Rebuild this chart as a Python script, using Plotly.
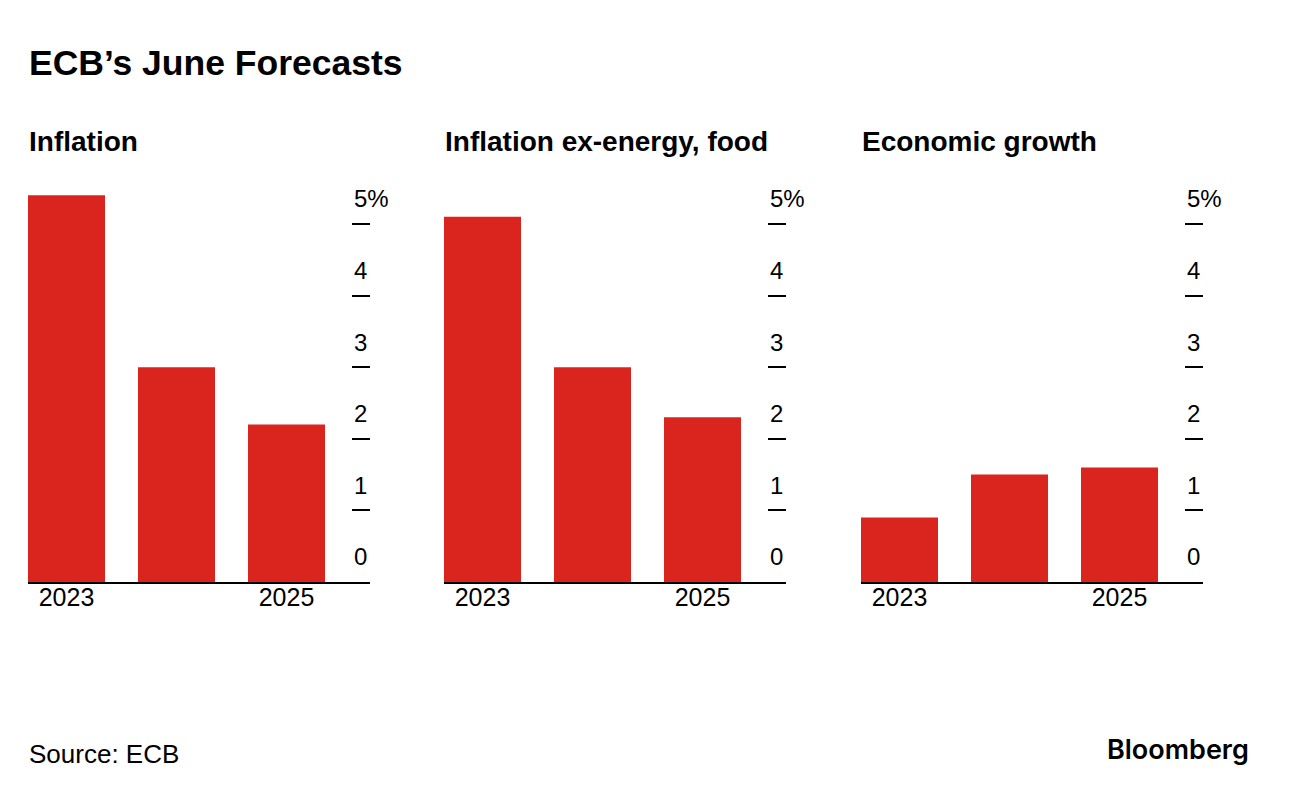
import plotly.graph_objects as go

years = ["2023", "2024", "2025"]
inflation = [5.4, 3.0, 2.2]
core_inflation = [5.1, 3.0, 2.3]
growth = [0.9, 1.5, 1.6]
panel_titles = ["Inflation", "Inflation ex-energy, food", "Economic growth"]
y_tickvals = [0, 1, 2, 3, 4, 5]
y_ticktext = ["0", "1", "2", "3", "4", "5%"]
x_tickvals = ["2023", "2025"]

W, H = 1289, 796
OFF = 8  # page body margin
RED = "#da241e"
FONT = "Liberation Sans, Arial, sans-serif"


def fx(px):
    return (px - OFF) / W


def fy(py):
    return 1 - (py - OFF) / H


series = [inflation, core_inflation, growth]
panels_px = [(28, 370), (444, 786), (861, 1203)]
y_bottom_px, y_top_px = 582, 181

fig = go.Figure()
layout = dict(
    width=W, height=H,
    margin=dict(l=0, r=0, t=0, b=0, autoexpand=False),
    paper_bgcolor="white", plot_bgcolor="white",
    showlegend=False,
    font=dict(family=FONT, color="black"),
)

for i, (vals, (x0, x1)) in enumerate(zip(series, panels_px)):
    n = "" if i == 0 else str(i + 1)
    fig.add_trace(go.Bar(x=years, y=vals, marker=dict(color=RED, line=dict(width=0)),
                         width=0.7, xaxis="x" + n, yaxis="y" + n,
                         hoverinfo="skip"))
    layout["xaxis" + n] = dict(
        domain=[fx(x0), fx(x1)], range=[-0.35, 2.759], type="category",
        anchor="y" + n, showline=True, linecolor="black", linewidth=1.5,
        showgrid=False, zeroline=False, ticks="", automargin=False,
        tickmode="array", tickvals=x_tickvals, ticktext=x_tickvals,
        tickfont=dict(size=25, family=FONT, color="black"),
        ticklabelstandoff=-8,
        fixedrange=True,
    )
    layout["yaxis" + n] = dict(
        domain=[fy(y_bottom_px), fy(y_top_px)], range=[0, 5.6],
        anchor="x" + n, side="right", showline=False, showgrid=False,
        zeroline=False, ticks="inside", ticklen=18, tickwidth=1.5,
        tickcolor="black", tickmode="array", tickvals=y_tickvals,
        ticktext=y_ticktext, tickfont=dict(size=24, family=FONT, color="black"),
        ticklabelshift=-25, ticklabelstandoff=-17, automargin=False,
        fixedrange=True,
    )

annotations = [
    dict(text="<b>ECB’s June Forecasts</b>", x=fx(27), y=fy(62.5),
         xref="paper", yref="paper", xanchor="left", yanchor="middle",
         showarrow=False, font=dict(size=35.5, family=FONT, color="black")),
    dict(text="Source: ECB", x=fx(27), y=fy(754),
         xref="paper", yref="paper", xanchor="left", yanchor="middle",
         showarrow=False, font=dict(size=26, family=FONT, color="black")),
    dict(text="Bloomberg", x=fx(1251), y=fy(749),
         xref="paper", yref="paper", xanchor="right", yanchor="middle",
         showarrow=False,
         font=dict(size=27, family="Inter, Liberation Sans, sans-serif", color="black", weight=600)),
]
for (x0, x1), t in zip(panels_px, panel_titles):
    annotations.append(dict(text="<b>" + t + "</b>", x=fx(x0 - 1), y=fy(141),
                            xref="paper", yref="paper", xanchor="left", yanchor="middle",
                            showarrow=False, font=dict(size=28, family=FONT, color="black")))
layout["annotations"] = annotations
fig.update_layout(**layout)
fig.write_html("out.html")
